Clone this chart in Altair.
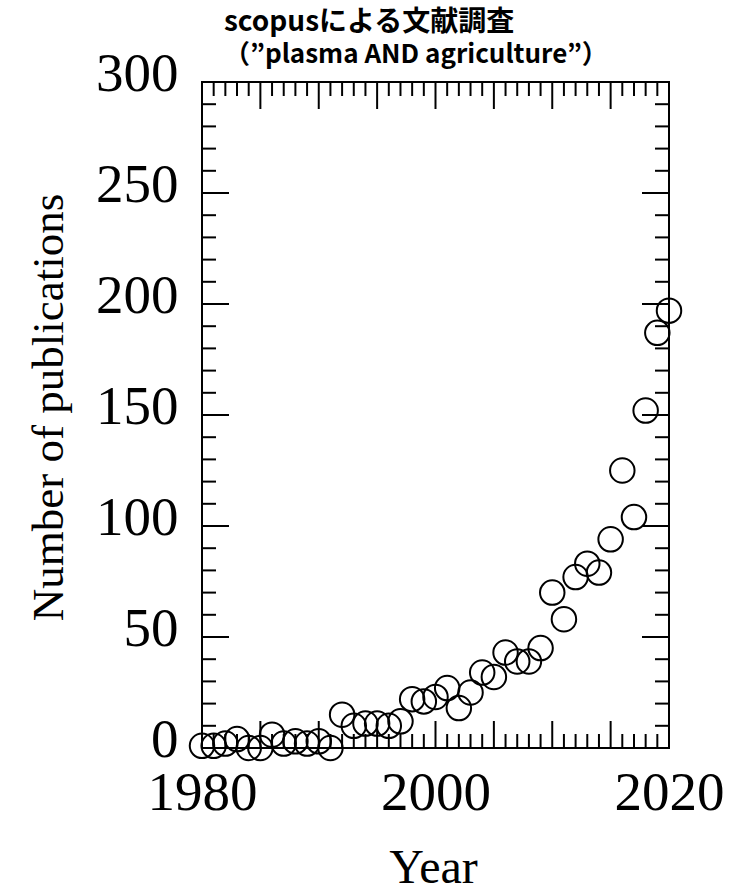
import altair as alt
import pandas as pd

# Data
years = list(range(1980, 2021))
counts = [1, 1, 2, 4, 0, 0, 6, 2, 3, 2, 3, 0, 15, 10, 11, 11, 10, 12, 22, 21,
          23, 27, 18, 25, 34, 32, 43, 39, 39, 45, 70, 58, 77, 83, 79, 94, 125,
          104, 152, 187, 197]

# Axis labels and tick positions
x_labels = [1980, 2000, 2020]
y_labels = [0, 50, 100, 150, 200, 250, 300]
x_major = [1980, 1985, 1990, 1995, 2000, 2005, 2010, 2015, 2020]
x_minor = [y for y in range(1980, 2021) if y not in x_major]
y_major = [0, 50, 100, 150, 200, 250, 300]
y_minor = [v for v in range(0, 301, 10) if v not in y_major]

title_line1 = "scopusによる文献調査"
title_line2 = "（”plasma AND agriculture”）"

W, H = 467, 666
MINOR, MAJOR = 14, 27

xs = alt.Scale(domain=[1980, 2020], nice=False, zero=False)
ys = alt.Scale(domain=[0, 300], nice=False, zero=False)

x_axis = alt.Axis(
    values=x_labels, title="Year", format="d", grid=False, domain=False,
    ticks=False, labelFont="Liberation Serif", labelFontSize=55,
    labelColor="black", labelPadding=18, labelFlush=False,
    titleFont="Liberation Serif", titleFontSize=48, titleFontWeight="normal",
    titleColor="black", titleX=231, titleY=134, titleBaseline="alphabetic")
y_axis = alt.Axis(
    values=y_labels, title="Number of publications", grid=False, domain=False,
    ticks=False, labelFont="Liberation Serif", labelFontSize=55,
    labelColor="black", labelPadding=24, labelBaseline="middle",
    labelOffset=-9, labelFlush=False,
    titleFont="Liberation Serif", titleFontSize=45, titleFontWeight="normal",
    titleColor="black", titleX=-140, titleY=325, titleAngle=-90,
    titleAlign="center", titleBaseline="alphabetic")

df = pd.DataFrame({"year": years, "count": counts})

points = alt.Chart(df).mark_point(
    shape="circle", filled=False, color="black", strokeWidth=2, size=600, opacity=1
).encode(
    x=alt.X("year:Q", scale=xs, axis=x_axis),
    y=alt.Y("count:Q", scale=ys, axis=y_axis),
)

def xticks(vals, length):
    d = pd.DataFrame({"year": vals})
    bottom = alt.Chart(d).mark_rule(color="black", strokeWidth=2).encode(
        x=alt.X("year:Q", scale=xs, axis=x_axis),
        y=alt.value(H), y2=alt.value(H - length))
    top = alt.Chart(d).mark_rule(color="black", strokeWidth=2).encode(
        x=alt.X("year:Q", scale=xs, axis=x_axis),
        y=alt.value(0), y2=alt.value(length))
    return [bottom, top]

def yticks(vals, length):
    d = pd.DataFrame({"count": vals})
    left = alt.Chart(d).mark_rule(color="black", strokeWidth=2).encode(
        y=alt.Y("count:Q", scale=ys, axis=y_axis),
        x=alt.value(0), x2=alt.value(length))
    right = alt.Chart(d).mark_rule(color="black", strokeWidth=2).encode(
        y=alt.Y("count:Q", scale=ys, axis=y_axis),
        x=alt.value(W), x2=alt.value(W - length))
    return [left, right]

layers = [points] + xticks(x_minor, MINOR) + xticks(x_major, MAJOR) \
    + yticks(y_minor, MINOR) + yticks(y_major, MAJOR)

chart = alt.layer(*layers).properties(
    width=W, height=H,
    padding={"left": 202, "top": 82, "right": 78, "bottom": 144},
    autosize=alt.AutoSizeParams(type="none"),
    title=alt.TitleParams(
        text=title_line1, subtitle=title_line2,
        anchor="start", align="left", frame="group",
        dx=22, offset=-22, font="Noto Sans CJK JP", fontSize=28,
        fontWeight="bold", color="black",
        subtitleFont="Noto Sans CJK JP", subtitleFontSize=26,
        subtitleFontWeight="bold", subtitleColor="black", subtitlePadding=5),
    background="white",
).configure_view(stroke="black", strokeWidth=2)

chart.save("out.html", embed_options={"renderer": "svg", "actions": False})
